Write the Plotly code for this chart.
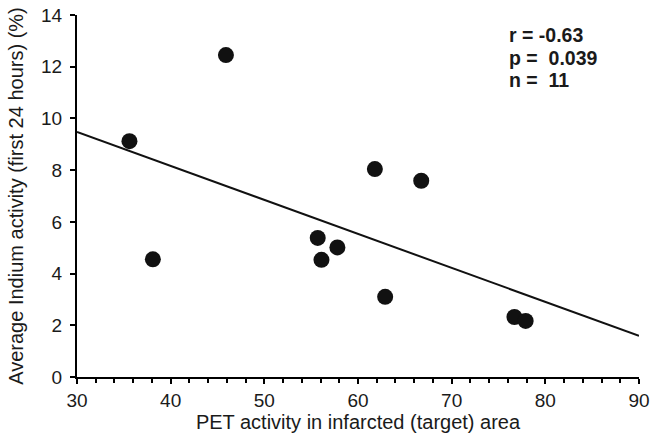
import plotly.graph_objects as go

pet_activity = [45.9, 35.6, 38.1, 55.7, 57.8, 56.1, 61.8, 66.75, 62.9, 76.7, 77.9]
indium_activity = [12.45, 9.12, 4.55, 5.38, 5.01, 4.53, 8.04, 7.59, 3.10, 2.32, 2.17]
fit_x = [30, 90]
fit_y = [9.48, 1.59]
stats_lines = ["r = -0.63", "p =  0.039", "n =  11"]

fig = go.Figure()
fig.add_trace(go.Scatter(x=fit_x, y=fit_y, mode="lines",
                         line=dict(color="#111111", width=2), showlegend=False))
fig.add_trace(go.Scatter(x=pet_activity, y=indium_activity, mode="markers",
                         marker=dict(color="#111111", size=16), showlegend=False))

fig.update_layout(
    width=650, height=443,
    margin=dict(l=77, r=11, t=15, b=66),
    paper_bgcolor="white", plot_bgcolor="white",
    font=dict(family="Liberation Sans, Arial, sans-serif", color="#1a1a1a"),
)
fig.update_xaxes(range=[30, 90], dtick=10, tick0=30, showgrid=False, zeroline=False,
                 automargin=False,
                 showline=True, linecolor="black", linewidth=2,
                 ticks="outside", ticklen=5, tickwidth=2, tickcolor="black",
                 minor=dict(dtick=2, ticks="outside", ticklen=4, tickwidth=1.5, tickcolor="black"),
                 tickfont=dict(size=19), ticklabelstandoff=0,
                 title=dict(text="PET activity in infarcted (target) area", font=dict(size=20), standoff=4))
fig.update_yaxes(range=[0, 14], dtick=2, showgrid=False, zeroline=False,
                 automargin=False,
                 showline=True, linecolor="black", linewidth=2,
                 ticks="outside", ticklen=5, tickwidth=2, tickcolor="black",
                 tickfont=dict(size=19), ticklabelstandoff=4,
                 title=dict(text="Average Indium activity (first 24 hours) (%)", font=dict(size=20), standoff=12))
ypix = [35, 57.5, 80]
for s, yp in zip(stats_lines, ypix):
    fig.add_annotation(xref="paper", yref="paper", x=(507.5 - 76.7) / 562.6,
                       y=(376.7 - yp) / 361.7, xanchor="left", yanchor="middle",
                       align="left", showarrow=False, text="<b>%s</b>" % s,
                       font=dict(size=19.5, color="#1a1a1a"))
fig.write_html("out.html", config={"displayModeBar": False},
               post_script="document.body.style.margin='0';document.body.style.overflow='hidden';")
